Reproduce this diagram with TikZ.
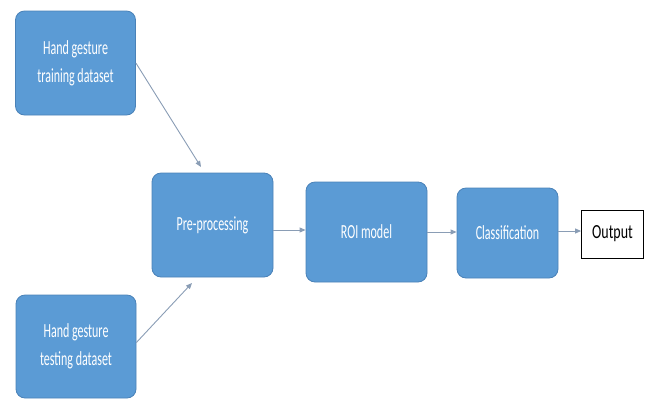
\documentclass[tikz,border=0pt]{standalone}
\usepackage{fontspec}
\setmainfont{Carlito}
\usepackage{graphicx}
\usetikzlibrary{arrows.meta}
\definecolor{boxblue}{HTML}{5B9BD5}
\definecolor{boxedge}{HTML}{4A82B8}
\definecolor{flowgray}{HTML}{8A9DB5}
% narrow text, as in the picture
\newcommand{\sq}[1]{\scalebox{0.6}[1]{#1}}

\begin{document}
\begin{tikzpicture}[x=1pt, y=-1pt,
  blockbox/.style={draw=boxedge, fill=boxblue, rounded corners=9pt, line width=0.8pt,
    text=white, align=center, font=\fontsize{20}{28}\selectfont, inner sep=0pt},
  outbox/.style={draw=black, fill=white, line width=0.8pt, align=center,
    font=\fontsize{20}{24}\selectfont, inner sep=0pt, minimum width=62pt, minimum height=48pt},
  flow/.style={draw=flowgray, line width=0.9pt, -{Triangle[length=6pt, width=5pt]}}]

\useasboundingbox (0,0) rectangle (645,400);

% input data
\node[blockbox, minimum width=120pt, minimum height=104pt] (train) at (75.5,63) {\sq{Hand gesture}\\ \sq{training dataset}};
\node[blockbox, minimum width=120pt, minimum height=103pt] (test) at (76,346.5) {\sq{Hand gesture}\\ \sq{testing dataset}};

% pipeline
\node[blockbox, minimum width=121pt, minimum height=104pt] (pre) at (212.5,225) {\sq{Pre-processing}};
\node[blockbox, minimum width=121pt, minimum height=100pt] (roi) at (366.5,232) {\sq{ROI model}};
\node[blockbox, minimum width=101pt, minimum height=90pt] (class) at (507.5,233) {\sq{Classification}};
\node[outbox] (out) at (612.5,234) {\scalebox{0.7}[1]{Output}};

\coordinate (preIn1) at (201,167);
\coordinate (preIn2) at (192,283);

\draw[flow] (train.east) -- (preIn1);
\draw[flow] (test.east) ++(0,-4) -- (preIn2);
\draw[flow] (pre.east |- 0,230) -- (roi.west |- 0,230);
\draw[flow] (roi.east) -- (roi.east -| class.west);
\draw[flow] (class.east |- 0,231) -- (out.west |- 0,231);

\end{tikzpicture}
\end{document}
